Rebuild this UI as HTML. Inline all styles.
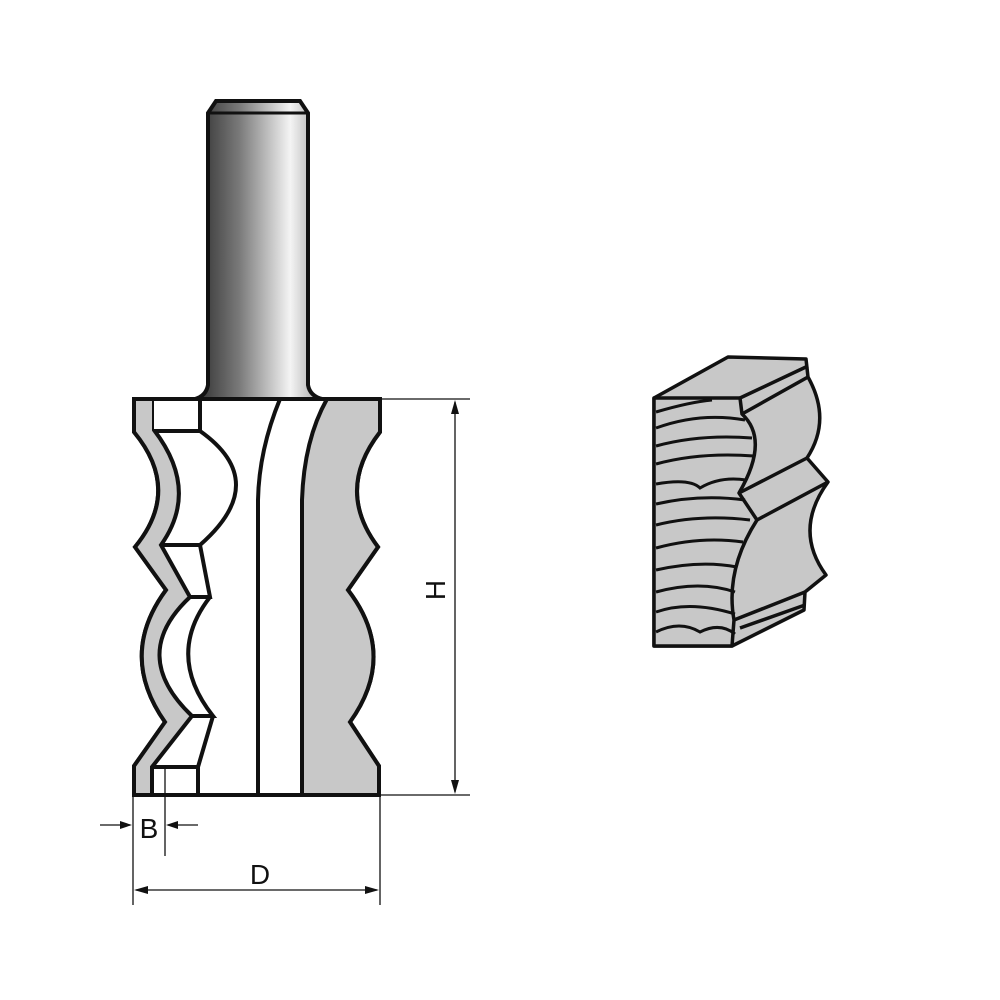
<!DOCTYPE html>
<html><head><meta charset="utf-8"><style>
html,body{margin:0;padding:0;background:#fff;}
svg{display:block}
</style></head><body>
<svg width="1000" height="1000" viewBox="0 0 1000 1000" xmlns="http://www.w3.org/2000/svg">
<defs>
<linearGradient id="sh" x1="0" x2="1" y1="0" y2="0">
<stop offset="0" stop-color="#2e2e2e"/>
<stop offset="0.35" stop-color="#7a7a7a"/>
<stop offset="0.75" stop-color="#f4f4f4"/>
<stop offset="1" stop-color="#a0a0a0"/>
</linearGradient>
</defs>
<path d="M216,101 L300,101 L308,113 L308,385 Q310,396 322,399 L195,399 Q206,396 208,385 L208,113 Z" fill="url(#sh)" stroke="#111" stroke-width="4"/>
<line x1="209" y1="113" x2="307" y2="113" stroke="#111" stroke-width="3"/>
<path d="M134,399 L380,399 L380,432 Q335,490 378,547 L348,590 Q398,655 350,722 L379,766 L379,795 L134,795 L134,766 L165,722 Q118,655 166,590 L135,547 Q182,490 134,432 Z" fill="#fff" stroke="#111" stroke-width="4"/>
<path d="M327,399 L380,399 L380,432 Q335,490 378,547 L348,590 Q398,655 350,722 L379,766 L379,795 L302,795 L302,500 Q304,440 327,399 Z" fill="#c8c8c8" stroke="#111" stroke-width="4"/>
<path d="M280,399 Q259,450 258,500 L258,795" fill="none" stroke="#111" stroke-width="4"/>
<path d="M134,399 L154,399 L154,430 Q200,490 161,545 L190,597 Q128,655 192,716 L152,767 L152,795 L134,795 L134,766 L165,722 Q118,655 166,590 L135,547 Q182,490 134,432 Z" fill="#c8c8c8" stroke="#111" stroke-width="4"/>
<path d="M154,399 L200,399 L200,431 L154,431" fill="#fff" stroke="#111" stroke-width="4"/>
<path d="M200,431 Q272,482 200,545" fill="none" stroke="#111" stroke-width="4"/>
<path d="M161,545 L200,545 L210,597 L190,597" fill="none" stroke="#111" stroke-width="4"/>
<path d="M210,597 Q165,655 213,716 L192,716" fill="none" stroke="#111" stroke-width="4"/>
<path d="M213,716 L198,767 L152,767" fill="none" stroke="#111" stroke-width="4"/>
<line x1="198" y1="767" x2="198" y2="795" stroke="#111" stroke-width="4"/>
<g stroke="#111" stroke-width="1.3" fill="none">
<line x1="380" y1="399" x2="470" y2="399"/>
<line x1="380" y1="795" x2="470" y2="795"/>
<line x1="455" y1="402" x2="455" y2="792"/>
<line x1="133" y1="797" x2="133" y2="905"/>
<line x1="380" y1="797" x2="380" y2="905"/>
<line x1="136" y1="890" x2="377" y2="890"/>
<line x1="165" y1="765" x2="165" y2="856"/>
<line x1="100" y1="825" x2="130" y2="825"/>
<line x1="168" y1="825" x2="198" y2="825"/>
</g>
<g fill="#111">
<path d="M455,400 L451,414 L459,414 Z"/>
<path d="M455,794 L451,780 L459,780 Z"/>
<path d="M134,890 L148,886 L148,894 Z"/>
<path d="M379,890 L365,886 L365,894 Z"/>
<path d="M132,825 L120,821 L120,829 Z"/>
<path d="M166,825 L178,821 L178,829 Z"/>
</g>
<text x="260" y="884" font-family="Liberation Sans, sans-serif" font-size="28" text-anchor="middle" fill="#111">D</text>
<text x="149" y="838" font-family="Liberation Sans, sans-serif" font-size="28" text-anchor="middle" fill="#111">B</text>
<text x="0" y="0" transform="translate(445,590) rotate(-90)" font-family="Liberation Sans, sans-serif" font-size="28" text-anchor="middle" fill="#111">H</text>
<g stroke="#111" stroke-width="3.5" fill="#c8c8c8" stroke-linejoin="round">
<path d="M654,398 L728,357 L806,359 L808,377 Q832,420 807,458 L828,482 Q793,530 826,575 L805,592 L804,610 L732,646 L654,646 Z"/>
<path d="M654,398 L740,398 L742,414 Q770,440 739,493 L757,520 Q725,570 734,620 L732,646 L654,646 Z"/>
<path d="M740,398 L808,366 M742,414 L808,377" fill="none"/>
<path d="M739,493 L807,458 M757,520 L828,482" fill="none"/>
<path d="M734,620 L805,592 M740,628 L805,605" fill="none"/>
</g>
<g stroke="#111" stroke-width="3" fill="none">
<path d="M656,412 Q690,402 712,400"/>
<path d="M656,428 Q700,412 745,420"/>
<path d="M656,446 Q700,434 752,438"/>
<path d="M656,464 Q700,452 754,456"/>
<path d="M656,484 Q690,478 700,488 Q720,476 746,480"/>
<path d="M656,504 Q700,494 745,500"/>
<path d="M656,525 Q700,514 750,520"/>
<path d="M656,548 Q700,536 743,542"/>
<path d="M656,570 Q700,560 737,567"/>
<path d="M656,592 Q700,580 735,592"/>
<path d="M656,612 Q690,600 735,614"/>
<path d="M656,632 Q680,620 700,632 Q720,622 735,634"/>
</g>
</svg>
</body></html>
